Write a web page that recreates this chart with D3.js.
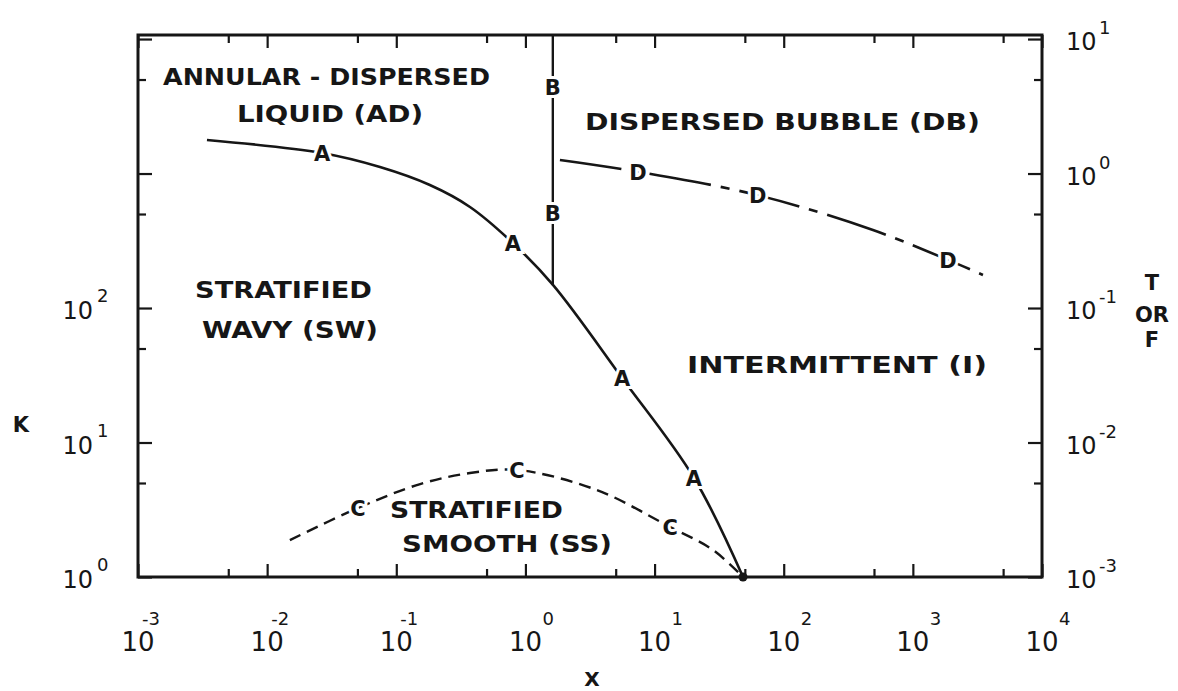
<!DOCTYPE html>
<html>
<head>
<meta charset="utf-8">
<script src="https://cdn.jsdelivr.net/npm/d3@7"></script>
<style>
  body { margin: 0; background: #fff; }
  text { font-family: "DejaVu Sans", sans-serif; fill: #161616; }
</style>
</head>
<body>
<svg id="chart" width="1178" height="691"></svg>
<script>
// Flow-pattern map boundaries: X on the abscissa, K on the left ordinate,
// T or F on the right ordinate.
const curveA = [[0.00342, 1775], [0.0266, 1420], [0.0748, 1117], [0.182, 821], [0.372, 564],
                [0.80, 304], [1.64, 148], [5.6, 30.2], [20.2, 5.45], [48.4, 1]];
const curveB = [[1.63, 148], [1.63, 10715]];
const curveC = [[0.0150, 1.88], [0.0506, 3.26], [0.153, 4.91], [0.372, 5.93], [0.861, 6.25],
                [3.58, 4.43], [13.2, 2.35], [28.3, 1.59], [48.4, 1]];
const curveD = [[1.85, 1.26], [7.45, 1.03], [63, 0.69], [491, 0.38], [1870, 0.228], [3490, 0.176]];

// Letters written on the boundaries
const markA = [[0.0266, 1420], [0.80, 304], [5.6, 30.2], [20.2, 5.45]];
const markB = [[1.63, 4397], [1.63, 508]];
const markC = [[0.0506, 3.26], [0.861, 6.25], [13.2, 2.35]];
const markD = [[7.45, 1.03], [63, 0.69], [1870, 0.228]];

// Axis ticks
const xMajor = [-3, -2, -1, 0, 1, 2, 3, 4];
const xMinor = [5e-3, 5e-2, 5e-1, 5, 50, 500, 5000];
const kMajor = [0, 1, 2, 3, 4];
const kLabelled = [0, 1, 2];
const kMinor = [5, 50, 500, 5000];
const tMajor = [-3, -2, -1, 0, 1];
const tMinor = [5e-3, 5e-2, 5e-1, 5];

// Region names
const regions = [
  { text: "ANNULAR - DISPERSED", x0: 163, x1: 490, y: 85 },
  { text: "LIQUID  (AD)", x0: 237, x1: 423, y: 122 },
  { text: "DISPERSED  BUBBLE  (DB)", x0: 585, x1: 980, y: 130 },
  { text: "STRATIFIED", x0: 195, x1: 372, y: 298 },
  { text: "WAVY  (SW)", x0: 202, x1: 378, y: 338 },
  { text: "INTERMITTENT  (I)", x0: 687, x1: 987, y: 373 },
  { text: "STRATIFIED", x0: 390, x1: 563, y: 518 },
  { text: "SMOOTH  (SS)", x0: 402, x1: 612, y: 552 }
];

const ink = "#161616";
const svg = d3.select("#chart");

const x = d3.scaleLog().domain([1e-3, 1e4]).range([138, 1042]);
const yK = d3.scaleLog().domain([1, Math.pow(10, 4.03)]).range([577, 35]);
const yT = d3.scaleLog().domain([1e-3, Math.pow(10, 1.03)]).range([577, 35]);

const [xl, xr] = x.range();
const [yb, yt] = yK.range();

// tick marks, all pointing into the plot
function ticks(axis, tx, ty, len) {
  const g = svg.append("g").attr("transform", `translate(${tx},${ty})`)
    .call(axis.tickSize(-len).tickFormat(""));
  g.select(".domain").remove();
  g.selectAll("text").remove();
  g.selectAll("line").attr("stroke", ink).attr("stroke-width", 2.2);
}
const pow = e => Math.pow(10, e);
ticks(d3.axisBottom(x).tickValues(xMajor.map(pow)), 0, yb, 13);
ticks(d3.axisBottom(x).tickValues(xMinor), 0, yb, 8);
ticks(d3.axisTop(x).tickValues(xMajor.map(pow)), 0, yt, 13);
ticks(d3.axisTop(x).tickValues(xMinor), 0, yt, 8);
ticks(d3.axisLeft(yK).tickValues(kMajor.map(pow)), xl, 0, 14);
ticks(d3.axisLeft(yK).tickValues(kMinor), xl, 0, 8);
ticks(d3.axisRight(yT).tickValues(tMajor.map(pow)), xr, 0, 14);
ticks(d3.axisRight(yT).tickValues(tMinor), xr, 0, 8);

// frame
svg.append("rect")
  .attr("x", xl).attr("y", yt).attr("width", xr - xl).attr("height", yb - yt)
  .attr("fill", "none").attr("stroke", ink).attr("stroke-width", 3);

// power-of-ten labels
function powerLabel(g, baseX, baseY, anchor, exp, supX, supY, size) {
  g.append("text").attr("x", baseX).attr("y", baseY)
    .attr("text-anchor", anchor).attr("font-size", size).text("10");
  g.append("text").attr("x", supX).attr("y", supY)
    .attr("font-size", 18).text(exp < 0 ? "-" + (-exp) : String(exp));
}
const lab = svg.append("g");
xMajor.forEach(e => {
  const px = x(pow(e));
  powerLabel(lab, px, 651, "middle", e, px + (e < 0 ? 4 : 17), 625, 26);
});
kLabelled.forEach(e => {
  const py = yK(pow(e));
  powerLabel(lab, 93, py + 11, "end", e, 97, py - 6, 24);
});
tMajor.forEach(e => {
  const py = yT(pow(e));
  powerLabel(lab, 1066, py + 11, "start", e, 1099, py - 5, 24);
});

// axis titles
svg.append("text").attr("x", 21).attr("y", 432).attr("text-anchor", "middle")
  .attr("font-size", 21).attr("font-weight", "bold").text("K");
svg.append("text").attr("x", 592).attr("y", 686).attr("text-anchor", "middle")
  .attr("font-size", 20).attr("font-weight", "bold").text("X");
[["T", 290], ["OR", 322], ["F", 347]].forEach(([t, yy]) => {
  svg.append("text").attr("x", 1152).attr("y", yy).attr("text-anchor", "middle")
    .attr("font-size", 21).attr("font-weight", "bold").text(t);
});

// boundaries
const lineK = d3.line().x(d => x(d[0])).y(d => yK(d[1])).curve(d3.curveCatmullRom.alpha(0.5));
const lineT = d3.line().x(d => x(d[0])).y(d => yT(d[1])).curve(d3.curveCatmullRom.alpha(0.5));

svg.append("path").attr("d", lineK(curveA)).attr("fill", "none")
  .attr("stroke", ink).attr("stroke-width", 2.6);
svg.append("path").attr("d", lineK(curveB)).attr("fill", "none")
  .attr("stroke", ink).attr("stroke-width", 2.4);
svg.append("path").attr("d", lineK(curveC)).attr("fill", "none")
  .attr("stroke", ink).attr("stroke-width", 2.4).attr("stroke-dasharray", "12,7");
svg.append("path").attr("d", lineT(curveD)).attr("fill", "none")
  .attr("stroke", ink).attr("stroke-width", 2.6).attr("stroke-dasharray", "62,10,9,10");

svg.append("circle").attr("cx", x(48.4)).attr("cy", yK(1)).attr("r", 4.5).attr("fill", ink);

// letters on the boundaries, knocked out of the line
function letters(pts, ch, yScale) {
  svg.append("g").selectAll("text").data(pts).join("text")
    .attr("x", d => x(d[0])).attr("y", d => yScale(d[1]) + 8)
    .attr("text-anchor", "middle").attr("font-size", 21).attr("font-weight", "bold")
    .attr("stroke", "#fff").attr("stroke-width", 6).attr("paint-order", "stroke")
    .text(ch);
}
letters(markA, "A", yK);
letters(markB, "B", yK);
letters(markC, "C", yK);
letters(markD, "D", yT);

// region names
svg.append("g").selectAll("text").data(regions).join("text")
  .attr("x", d => d.x0).attr("y", d => d.y)
  .attr("font-size", 23).attr("font-weight", "bold")
  .attr("textLength", d => d.x1 - d.x0).attr("lengthAdjust", "spacingAndGlyphs")
  .text(d => d.text);
</script>
</body>
</html>
